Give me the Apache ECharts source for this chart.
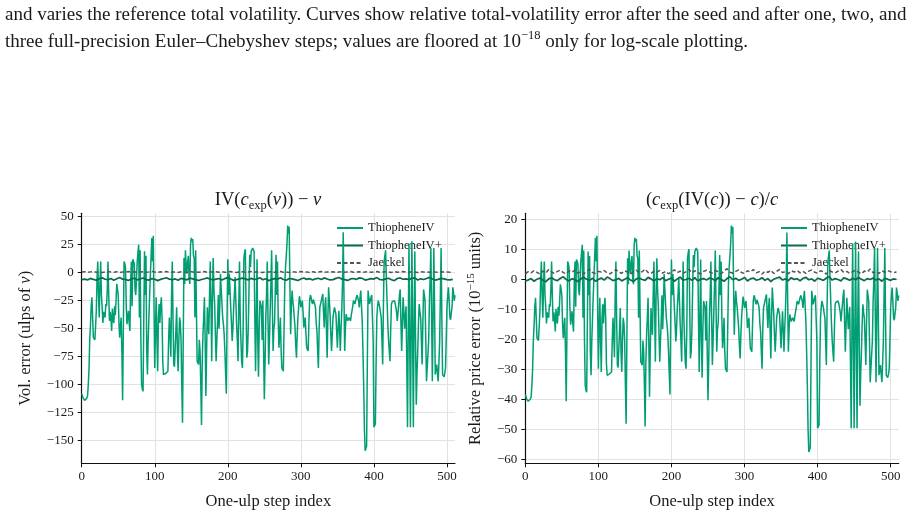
<!DOCTYPE html>
<html><head><meta charset="utf-8">
<script src="https://cdn.jsdelivr.net/npm/echarts@6/dist/echarts.min.js"></script>
<style>html,body{margin:0;padding:0;background:#fff}#c{width:919px;height:516px}</style>
</head><body><div id="c"></div>
<script>
const FONT = '"Liberation Serif", "DejaVu Serif", serif';

const captionLines = [
  'and varies the reference total volatility. Curves show relative total-volatility error after the seed and after one, two, and',
  'three full-precision Euler\u2013Chebyshev steps; values are floored at 10{sup|\u221218} only for log-scale plotting.'
];
const seriesNames = ['ThiopheneIV', 'ThiopheneIV+', 'Jaeckel'];
const xTicks = [0, 100, 200, 300, 400, 500];
const leftYTicks = [50, 25, 0, -25, -50, -75, -100, -125, -150];
const rightYTicks = [20, 10, 0, -10, -20, -30, -40, -50, -60];

const flatStep = 4;

// Left panel: IV(c_exp(v)) - v, ulps of v. Even step indices 0,2,4,...
const leftThioEven = [
  -108,-112,-114,-113,-110,-86,-47,-22,
  -58,-60,-34,10,-40,10,-31,-35,
  -40,-30,10,-43,-40,-32,-45,-38,
  -10,-20,-58,-40,-114,10,4,-46,
  -34,-52,10,12,8,-20,10,25,
  20,-100,-106,19,15,-91,-40,-2,
  31,33,-85,-22,-88,-28,-30,-40,
  -91,-91,-90,-88,-40,-75,10,-82,
  -85,-31,-88,-40,-60,-134,13,20,
  -1,15,-10,31,30,13,20,-79,
  -82,-70,-136,-55,-22,-110,-31,-55,
  10,-79,13,-28,-79,-43,-50,-1,
  -28,-46,-70,-108,12,-1,-31,-61,
  -31,-4,-46,-79,10,-61,-85,13,
  21,-76,-50,16,19,22,19,-88,
  12,-93,-25,-31,-25,-113,-40,10,
  -82,-34,20,-70,-45,16,10,-67,
  -40,-85,-88,-10,15,42,41,-55,
  -16,-31,-49,-76,-40,-21,-31,-25,
  -49,-40,-67,-70,-25,-22,-28,-25,
  -31,-52,-85,-31,-25,-19,-49,-22,
  -76,-13,-37,-70,-40,-31,-37,-67,
  -34,-70,-34,36,-70,-37,-43,-40,
  -43,-34,-25,-28,-22,-19,-31,-16,
  -43,-100,-159,-155,-16,-28,-22,-19,
  -138,-135,-40,-25,-31,-40,-82,10,
  20,-25,-60,-79,-28,-25,-25,-28,
  -43,-28,-15,-70,-22,-50,-30,-138,
  26,-138,28,-138,19,-118,-70,-28,
  -40,-82,-15,-25,-97,-97,-25,22,
  -97,22,-91,-82,-97,-61,22,-91,
  -93,-85,-31,-13,-40,-43,-13,-25
];
// Odd step indices 1,3,5,...
const leftThioOdd = [
  -110,-113,-114,-112,-100,-60,-30,-40,
  -59,-48,-5,-20,-10,-20,-45,-38,
  -28,-15,-20,-35,-52,-42,-30,-25,
  -15,-45,-48,-70,-50,8,-30,-40,
  -45,-10,-30,10,-15,-5,18,-40,
  -60,-104,-40,-20,-70,-60,-20,15,
  10,-30,-50,-60,-40,-45,-22,-80,
  -92,-90,-91,-60,-55,-20,-40,-84,
  -50,-70,-60,-45,-100,-60,-10,5,
  10,-5,25,28,15,-40,-30,-80,
  -60,-100,-80,-40,-60,-70,-45,-20,
  -30,-20,-15,-55,-60,-20,-30,-15,
  -40,-55,-90,-40,-20,-15,-45,-50,
  -20,-25,-60,-30,-40,-80,-50,18,
  -30,-70,-15,5,20,21,-40,-40,
  -60,-50,-28,-60,-70,-80,-20,-40,
  -60,-10,-30,-50,-15,-20,-40,-55,
  -70,-86,-50,5,25,35,-10,-30,
  -25,-40,-65,-55,-30,-25,-28,-35,
  -45,-55,-68,-45,-20,-26,-24,-28,
  -45,-70,-50,-28,-22,-35,-30,-50,
  -40,-25,-55,-55,-35,-34,-52,-50,
  -50,-50,-10,-20,-50,-40,-42,-41,
  -38,-30,-26,-25,-20,-25,-22,-30,
  -70,-140,-160,-80,-22,-25,-20,-60,
  -137,-80,-30,-28,-36,-60,-30,15,
  -5,-45,-70,-50,-26,-25,-27,-35,
  -35,-20,-45,-45,-35,-40,-80,-50,
  -60,-50,-60,-40,-60,-90,-45,-35,
  -60,-45,-20,-60,-97,-60,-5,-40,
  -40,-30,-86,-90,-80,-20,-40,-92,
  -90,-60,-20,-25,-42,-30,-18,-20
];
const leftThioPlus = [
  -6.2,-5.8,-6.5,-5.1,-6.0,-6.8,-5.4,-4.6,-5.9,-6.3,-5.2,-6.7,-5.5,-4.3,-5.8,-6.1,
  -6.9,-5.6,-5.0,-6.4,-5.7,-4.8,-6.2,-6.6,-5.3,-5.9,-7.1,-6.0,-5.2,-4.5,-5.8,-6.3,
  -5.6,-6.8,-5.1,-5.7,-6.4,-4.9,-5.5,-6.2,-7.0,-6.1,-5.4,-4.7,-5.9,-6.5,-5.8,-5.2,
  -6.6,-5.3,-4.4,-5.7,-6.9,-6.2,-5.5,-4.9,-5.6,-6.4,-5.1,-6.0,-5.7,-4.6,-6.3,-5.4,
  -7.2,-6.0,-5.3,-5.8,-4.5,-6.1,-6.7,-5.2,-5.6,-6.2,-7.0,-5.7,-4.8,-6.0,-5.3,-6.6,
  -5.5,-5.0,-6.1,-4.7,-5.6,-6.5,-6.2,-5.1,-4.3,-5.7,-6.2,-6.9,-5.6,-5.2,-6.0,-4.6,
  -5.1,-6.6,-6.0,-5.3,-5.7,-4.4,-6.1,-6.4,-5.6,-5.0,-6.3,-7.1,-5.2,-4.7,-5.9,-5.5,
  -6.2,-5.0,-4.6,-6.5,-5.5,-6.1,-5.2,-4.2,-5.7,-6.6,-6.0,-5.1,-5.6,-6.2,-6.5,-6.0
];
const leftJaeckel = [
  0.6,0.9,0.3,0.7,1.1,0.4,0.8,0.2,0.6,1.0,0.5,0.3,0.9,0.1,0.7,0.5,
  1.0,0.4,0.8,0.2,0.6,0.9,0.3,0.7,1.2,0.5,0.2,0.8,0.6,1.0,0.3,0.5,
  0.7,0.2,0.9,0.6,0.4,1.1,0.5,0.8,0.3,0.6,1.0,0.2,0.7,0.5,0.9,0.4,
  0.8,0.3,0.6,1.0,0.5,0.2,0.7,0.9,0.4,0.6,1.1,0.3,0.8,0.5,0.2,0.7,
  0.5,0.9,0.3,0.6,1.0,0.4,0.7,0.2,0.8,0.6,0.3,1.0,0.5,0.7,0.2,0.9,
  0.4,0.6,1.1,0.3,0.7,0.5,0.8,0.2,0.6,0.9,0.4,0.7,1.0,0.3,0.5,0.8,
  0.2,0.6,0.9,0.4,0.7,1.0,0.3,0.5,0.8,0.6,0.2,0.9,0.4,0.7,1.1,0.5,
  0.3,0.8,0.6,0.2,0.9,0.5,0.7,0.4,1.0,0.6,0.3,0.8,0.5,0.7,0.4,0.6
];

// Right panel: (c_exp(IV(c)) - c)/c, 1e-15 units
const rightThioEven = [
  -38.4,-40,-40.7,-40.3,-39.2,-30.1,-15.5,-6.1,
  -19.6,-20.4,-10.6,6,-12.8,6,-9.5,-11,
  -12.8,-9.1,6,-14,-12.8,-9.8,-14.7,-12.1,
  -1.6,-5.3,-19.6,-12.8,-40.7,6,3.7,-15.1,
  -10.6,-17.4,6,6.7,5.2,-5.3,6,11.6,
  9.7,-35.4,-37.7,9.3,7.8,-32,-12.8,1.4,
  13.9,14.6,-29.8,-6.1,-30.9,-8.3,-9.1,-12.8,
  -32,-32,-31.6,-30.9,-12.8,-26,6,-28.6,
  -29.8,-9.5,-30.9,-12.8,-20.4,-48.2,7.1,9.7,
  1.8,7.8,-1.6,13.9,13.5,7.1,9.7,-27.5,
  -28.6,-24.1,-49.1,-18.5,-6.1,-39.2,-9.5,-18.5,
  6,-27.5,7.1,-8.3,-27.5,-14,-16.6,1.8,
  -8.3,-15.1,-24.1,-38.4,6.7,1.8,-9.5,-20.7,
  -9.5,0.7,-15.1,-27.5,6,-20.7,-29.8,7.1,
  10.1,-26.4,-16.6,8.2,9.3,10.5,9.3,-30.9,
  6.7,-32.8,-7.2,-9.5,-7.2,-40.3,-12.8,6,
  -28.6,-10.6,9.7,-24.1,-14.7,8.2,6,-23,
  -12.8,-29.8,-30.9,-1.6,7.8,18,17.6,-18.5,
  -3.8,-9.5,-16.2,-26.4,-12.8,-5.7,-9.5,-7.2,
  -16.2,-12.8,-23,-24.1,-7.2,-6.1,-8.3,-7.2,
  -9.5,-17.4,-29.8,-9.5,-7.2,-5,-16.2,-6.1,
  -26.4,-2.7,-11.7,-24.1,-12.8,-9.5,-11.7,-23,
  -10.6,-24.1,-10.6,15.7,-24.1,-11.7,-14,-12.8,
  -14,-10.6,-7.2,-8.3,-6.1,-5,-9.5,-3.8,
  -14,-35.4,-57.6,-56.1,-3.8,-8.3,-6.1,-5,
  -49.7,-48.6,-12.8,-7.2,-9.5,-12.8,-28.6,6,
  9.7,-7.2,-20.4,-27.5,-8.3,-7.2,-7.2,-8.3,
  -14,-8.3,-3.4,-24.1,-6.1,-16.6,-9.1,-49.7,
  12,-49.7,12.7,-49.7,9.3,-42.2,-24.1,-8.3,
  -12.8,-28.6,-3.4,-7.2,-34.3,-34.3,-7.2,10.5,
  -34.3,10.5,-32,-28.6,-34.3,-20.7,10.5,-32,
  -32.8,-29.8,-9.5,-2.7,-12.8,-14,-2.7,-7.2
];
const rightThioOdd = [
  -39.2,-40.3,-40.7,-39.9,-35.4,-20.4,-9.1,-12.8,
  -20,-15.8,0.3,-5.3,-1.6,-5.3,-14.7,-12.1,
  -8.3,-3.4,-5.3,-11,-17.4,-13.6,-9.1,-7.2,
  -3.4,-14.7,-15.8,-24.1,-16.6,5.2,-9.1,-12.8,
  -14.7,-1.6,-9.1,6,-3.4,0.3,9,-12.8,
  -20.4,-36.9,-12.8,-5.3,-24.1,-20.4,-5.3,7.8,
  6,-9.1,-16.6,-20.4,-12.8,-14.7,-6.1,-27.9,
  -32.4,-31.6,-32,-20.4,-18.5,-5.3,-12.8,-29.4,
  -16.6,-24.1,-20.4,-14.7,-35.4,-20.4,-1.6,4.1,
  6,0.3,11.6,12.7,7.8,-12.8,-9.1,-27.9,
  -20.4,-35.4,-27.9,-12.8,-20.4,-24.1,-14.7,-5.3,
  -9.1,-5.3,-3.4,-18.5,-20.4,-5.3,-9.1,-3.4,
  -12.8,-18.5,-31.6,-12.8,-5.3,-3.4,-14.7,-16.6,
  -5.3,-7.2,-20.4,-9.1,-12.8,-27.9,-16.6,9,
  -9.1,-24.1,-3.4,4.1,9.7,10.1,-12.8,-12.8,
  -20.4,-16.6,-8.3,-20.4,-24.1,-27.9,-5.3,-12.8,
  -20.4,-1.6,-9.1,-16.6,-3.4,-5.3,-12.8,-18.5,
  -24.1,-30.1,-16.6,4.1,11.6,15.4,-1.6,-9.1,
  -7.2,-12.8,-22.2,-18.5,-9.1,-7.2,-8.3,-11,
  -14.7,-18.5,-23.4,-14.7,-5.3,-7.6,-6.8,-8.3,
  -14.7,-24.1,-16.6,-8.3,-6.1,-11,-9.1,-16.6,
  -12.8,-7.2,-18.5,-18.5,-11,-10.6,-17.4,-16.6,
  -16.6,-16.6,-1.6,-5.3,-16.6,-12.8,-13.6,-13.2,
  -12.1,-9.1,-7.6,-7.2,-5.3,-7.2,-6.1,-9.1,
  -24.1,-50.4,-58,-27.9,-6.1,-7.2,-5.3,-20.4,
  -49.3,-27.9,-9.1,-8.3,-11.3,-20.4,-9.1,7.8,
  0.3,-14.7,-24.1,-16.6,-7.6,-7.2,-8,-11,
  -11,-5.3,-14.7,-14.7,-11,-12.8,-27.9,-16.6,
  -20.4,-16.6,-20.4,-12.8,-20.4,-31.6,-14.7,-11,
  -20.4,-14.7,-5.3,-20.4,-34.3,-20.4,0.3,-12.8,
  -12.8,-9.1,-30.1,-31.6,-27.9,-5.3,-12.8,-32.4,
  -31.6,-20.4,-5.3,-7.2,-13.6,-9.1,-4.6,-5.3
];
const rightThioPlus = [
  -0.5,-0.2,0.3,-0.6,0.1,0.5,-0.3,-0.8,0.2,0.6,-0.1,-0.4,0.4,0.9,0.0,-0.5,
  0.3,-0.2,-0.7,0.2,0.7,0.1,-0.3,0.4,-0.6,0.0,0.5,-0.2,0.8,0.3,-0.4,-0.1,
  0.4,-0.5,0.1,0.6,-0.2,-0.7,0.2,0.5,0.0,-0.3,0.7,0.2,-0.5,0.3,-0.1,0.6,
  -0.4,0.1,0.5,-0.6,0.2,0.8,-0.2,0.0,0.4,-0.3,0.6,-0.5,0.1,0.3,-0.2,0.5,
  0.2,-0.4,0.6,0.0,-0.6,0.3,0.9,-0.1,0.4,-0.3,0.1,0.7,-0.5,0.2,0.5,-0.2,
  0.0,0.6,-0.3,0.3,-0.7,0.1,0.5,0.8,-0.2,0.2,-0.4,0.6,0.0,0.3,-0.5,0.4,
  0.7,-0.1,0.2,-0.6,0.4,0.1,-0.3,0.5,0.9,-0.2,0.3,0.0,-0.5,0.6,0.2,-0.3,
  0.4,-0.1,0.7,0.1,-0.4,0.3,0.0,0.5,-0.2,0.2,-0.6,0.4,0.1,-0.3,0.2,0.0
];
const rightJaeckel = [
  1.9,2.6,2.2,3.0,2.4,1.8,2.8,2.1,3.3,2.5,2.0,2.7,3.1,2.3,1.9,2.9,
  2.4,3.2,2.1,2.6,1.8,2.8,3.4,2.3,2.0,2.7,2.5,3.0,2.2,1.9,2.6,3.3,
  2.4,2.1,2.9,2.5,1.8,2.7,3.1,2.2,2.6,3.5,2.3,2.0,2.8,2.4,3.0,2.1,
  2.7,1.9,2.5,3.2,2.3,2.8,2.0,2.6,3.4,2.2,2.9,2.4,1.8,2.7,3.1,2.5,
  2.2,3.0,2.6,1.9,2.8,3.6,2.4,2.1,2.7,3.2,2.3,2.0,2.9,2.5,3.3,2.2,
  2.6,1.8,2.8,2.4,3.1,2.0,2.7,3.4,2.3,2.6,1.9,2.9,2.5,3.0,2.2,2.7,
  2.0,2.8,3.2,2.4,2.1,2.9,2.6,1.8,3.0,2.5,2.2,2.8,3.3,2.3,2.7,2.0,
  2.6,3.1,2.4,1.9,2.8,2.5,3.5,2.2,2.7,2.0,2.9,2.4,3.0,2.6,2.3,2.5
];

function interleave(evens, odds) {
  const out = [];
  evens.forEach((v, i) => { out.push([2 * i, v]); out.push([2 * i + 1, odds[i]]); });
  return out;
}
function pairs(arr, step) { return arr.map((v, i) => [i * step, v]); }
const minus = v => String(v).replace('-', '\u2212');

const COLORS = ['#009E73', '#0A6B4C', '#555555'];
const TXT = '#1a1a1a';
const LBL = 13;

function xAxis(gi) {
  return {
    type: 'value', gridIndex: gi, min: 0, max: 511, interval: 100,
    axisLine: { show: true, onZero: false, lineStyle: { color: '#111', width: 1.2 } },
    axisTick: { show: true, length: 4, customValues: xTicks, lineStyle: { color: '#111', width: 1 } },
    axisLabel: { customValues: xTicks, color: TXT, fontFamily: FONT, fontSize: LBL, margin: 7 },
    splitLine: { show: true, lineStyle: { color: '#e2e2e2', width: 1 } },
    name: 'One-ulp step index', nameLocation: 'middle', nameGap: 30,
    nameTextStyle: { color: TXT, fontFamily: FONT, fontSize: 16.5 }
  };
}
function yAxis(gi, min, max, ticks, name, nameGap, rich) {
  return {
    type: 'value', gridIndex: gi, min: min, max: max,
    axisLine: { show: true, lineStyle: { color: '#111', width: 1.2 } },
    axisTick: { show: true, length: 4, customValues: ticks, lineStyle: { color: '#111', width: 1 } },
    axisLabel: { customValues: ticks, color: TXT, fontFamily: FONT, fontSize: LBL, margin: 8, formatter: minus },
    splitLine: { show: true, lineStyle: { color: '#e2e2e2', width: 1 } },
    name: name, nameLocation: 'middle', nameGap: nameGap, nameRotate: 90,
    nameTextStyle: { color: TXT, fontFamily: FONT, fontSize: 16.5, lineHeight: 20, rich: rich }
  };
}
function lineSeries(name, idx, gi, data) {
  return {
    type: 'line', name: name, xAxisIndex: gi, yAxisIndex: gi,
    data: data, symbol: 'none', showSymbol: false,
    lineStyle: { color: COLORS[idx], width: idx === 1 ? 1.7 : 1.5, type: idx === 2 ? [4, 2.5] : 'solid' },
    itemStyle: { color: COLORS[idx] }, z: 3 + idx
  };
}
function legend(left) {
  return {
    left: left, top: 221.5, padding: 0, orient: 'vertical', itemWidth: 26, itemHeight: 14, itemGap: 4.5,
    selectedMode: false, z: 1, data: seriesNames,
    itemStyle: { opacity: 0 },
    textStyle: { color: TXT, fontFamily: FONT, fontSize: 12.5 }
  };
}

const italic = { fontStyle: 'italic', fontFamily: FONT, fontSize: 16.5, lineHeight: 20 };
const titleRich = {
  i: { fontStyle: 'italic', fontFamily: FONT, fontSize: 18.5, lineHeight: 24, fill: TXT },
  sub: { fontFamily: FONT, fontSize: 12.5, verticalAlign: 'bottom', lineHeight: 14, fill: TXT }
};
const chart = echarts.init(document.getElementById('c'), null, { renderer: 'canvas' });
chart.setOption({
  animation: false,
  backgroundColor: '#fff',
  grid: [
    { left: 81.7, top: 213.3, width: 373.3, height: 250 },
    { left: 525.3, top: 213.3, width: 373.4, height: 250 }
  ],
  legend: [legend(336), legend(780)],
  xAxis: [xAxis(0), xAxis(1)],
  yAxis: [
    yAxis(0, -170.2, 53.0, leftYTicks, 'Vol. error (ulps of {i|v})', 46, { i: italic }),
    yAxis(1, -61.4, 22.1, rightYTicks, 'Relative price error (10{sup|\u221215} units)', 40,
      { sup: { fontFamily: FONT, fontSize: 11, verticalAlign: 'top', lineHeight: 12 } })
  ],
  series: [
    lineSeries(seriesNames[0], 0, 0, interleave(leftThioEven, leftThioOdd)),
    lineSeries(seriesNames[1], 1, 0, pairs(leftThioPlus, flatStep)),
    lineSeries(seriesNames[2], 2, 0, pairs(leftJaeckel, flatStep)),
    lineSeries(seriesNames[0], 0, 1, interleave(rightThioEven, rightThioOdd)),
    lineSeries(seriesNames[1], 1, 1, pairs(rightThioPlus, flatStep)),
    lineSeries(seriesNames[2], 2, 1, pairs(rightJaeckel, flatStep))
  ],
  graphic: [
    { type: 'text', left: 5, top: 6, style: { text: captionLines[0], fill: TXT, font: '19px ' + FONT } },
    { type: 'text', left: 5, top: 29, style: { text: captionLines[1], fill: TXT, font: '19px ' + FONT, lineHeight: 26,
        rich: { sup: { fontFamily: FONT, fontSize: 12.5, verticalAlign: 'top', lineHeight: 16, fill: TXT } } } },
    { type: 'text', x: 268, y: 200, style: {
        text: 'IV({i|c}{sub|exp}({i|v})) \u2212 {i|v}', fill: TXT, font: '18.5px ' + FONT,
        align: 'center', verticalAlign: 'middle', lineHeight: 24, rich: titleRich } },
    { type: 'text', x: 712, y: 200, style: {
        text: '({i|c}{sub|exp}(IV({i|c})) \u2212 {i|c})/{i|c}', fill: TXT, font: '18.5px ' + FONT,
        align: 'center', verticalAlign: 'middle', lineHeight: 24, rich: titleRich } }
  ]
});
</script>
</body></html>
